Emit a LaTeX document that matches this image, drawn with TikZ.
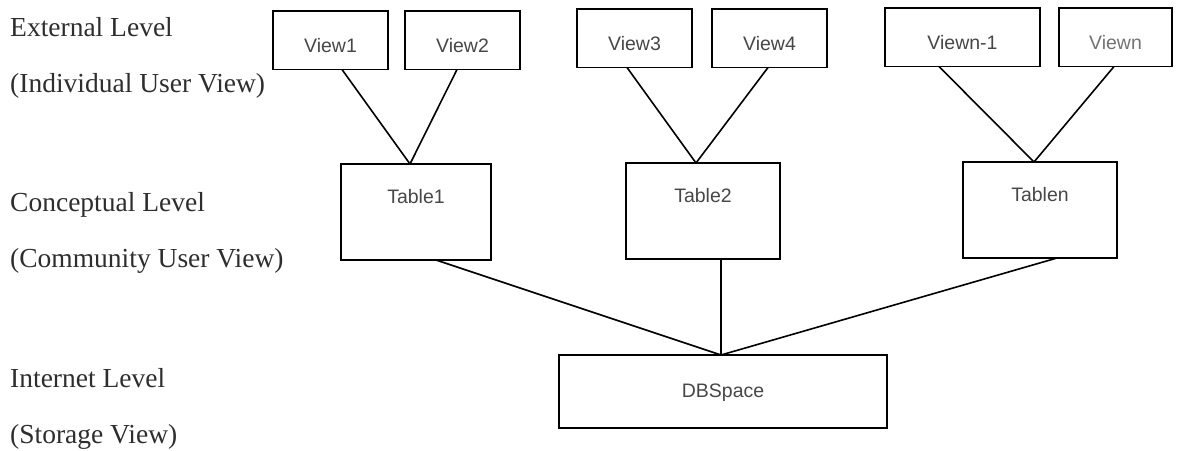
\documentclass[tikz,border=0pt]{standalone}
\usepackage{fontspec}
\setmainfont{Liberation Serif}
\newfontfamily\boxfont{Liberation Sans}
\begin{document}
\begin{tikzpicture}[x=1pt,y=-1pt,
  levellabel/.style={anchor=base west, inner sep=0pt, text=black!82,
    font=\fontsize{27.5}{33}\selectfont},
  boxbase/.style={draw, line width=1.6pt, anchor=north west, inner xsep=0pt,
    inner ysep=0pt, outer sep=0pt, text=black!72,
    font=\boxfont\fontsize{19.5}{23}\selectfont},
  viewbox/.style={boxbase, text height=41pt, text depth=17.5pt},
  tablebox/.style={boxbase, text height=39.5pt, text depth=56.5pt},
  spacebox/.style={boxbase, text height=42pt, text depth=31pt},
  link/.style={line width=1.6pt}]

\fill[white] (0,0) rectangle (1180,450);
\useasboundingbox (0,0) rectangle (1180,450);

% level captions on the left
\node[levellabel] (ext)  at (10,36)  {External Level};
\node[levellabel] (extv) at (10,92)  {(Individual User View)};
\node[levellabel] (con)  at (10,211) {Conceptual Level};
\node[levellabel] (conv) at (10,267) {(Community User View)};
\node[levellabel] (int)  at (10,387) {Internet Level};
\node[levellabel] (intv) at (10,443) {(Storage View)};

% external views
\node[viewbox, minimum width=115pt] (v1) at (273,11)  {View1};
\node[viewbox, minimum width=115pt] (v2) at (405,11)  {View2};
\node[viewbox, minimum width=115pt] (v3) at (577,9)   {View3};
\node[viewbox, minimum width=115pt] (v4) at (712,9)   {View4};
\node[viewbox, minimum width=155pt] (vm) at (885,8)   {Viewn-1};
\node[viewbox, minimum width=113pt, text=black!55] (vn) at (1059,8) {Viewn};

% conceptual tables
\node[tablebox, minimum width=150pt] (t1) at (341,164) {Table1};
\node[tablebox, minimum width=154pt] (t2) at (626,163) {Table2};
\node[tablebox, minimum width=154pt] (tn) at (963,162) {Tablen};

% storage
\node[spacebox, minimum width=328pt] (db) at (559,355) {DBSpace};

% views to tables
\draw[link] ([xshift=11.5pt]v1.south) -- ([xshift=-6pt]t1.north);
\draw[link] ([xshift=-5.5pt]v2.south) -- ([xshift=-6pt]t1.north);
\draw[link] ([xshift=-7.5pt]v3.south) -- ([xshift=-7pt]t2.north);
\draw[link] ([xshift=-1.5pt]v4.south) -- ([xshift=-7pt]t2.north);
\draw[link] ([xshift=-23.5pt]vm.south) -- ([xshift=-6pt]tn.north);
\draw[link] ([xshift=-1.5pt]vn.south) -- ([xshift=-6pt]tn.north);

% tables to storage
\draw[link] ([xshift=20pt]t1.south) -- ([xshift=-2pt]db.north);
\draw[link] ([xshift=18pt]t2.south) -- ([xshift=-2pt]db.north);
\draw[link] ([xshift=17pt]tn.south) -- ([xshift=-2pt]db.north);
\end{tikzpicture}
\end{document}
